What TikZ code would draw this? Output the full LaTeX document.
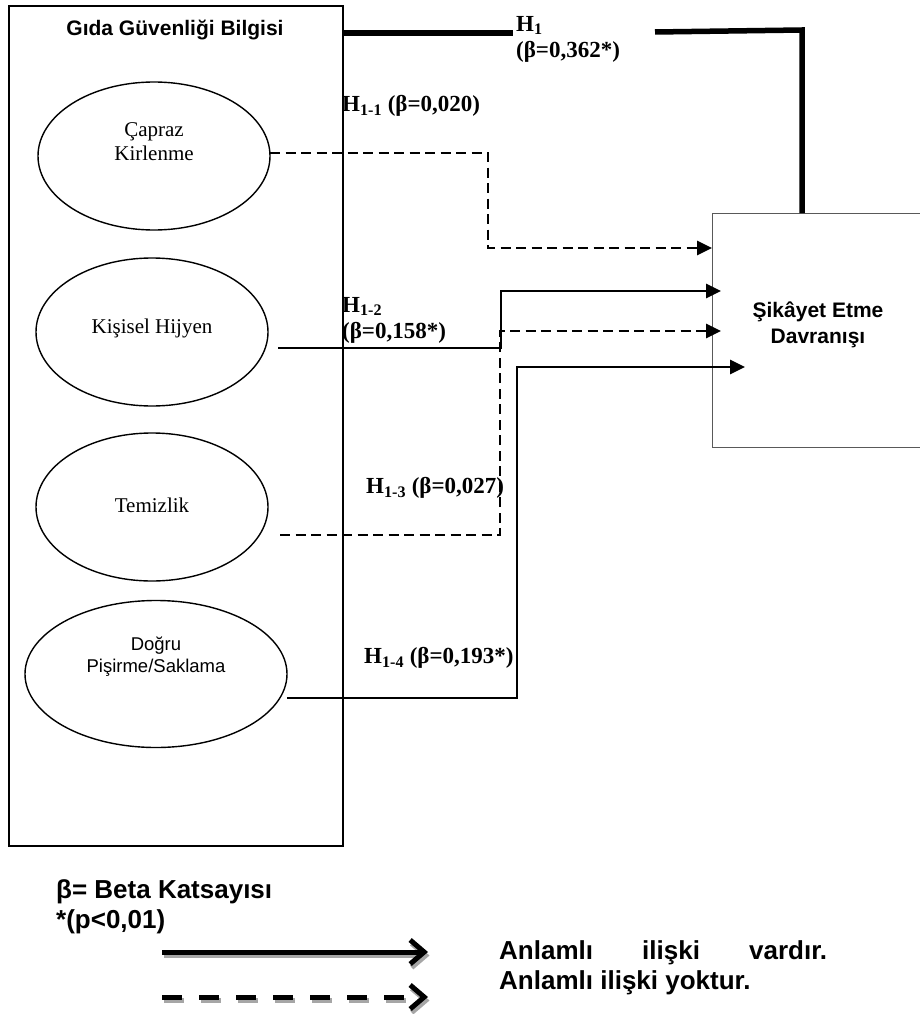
\documentclass[tikz,border=0pt]{standalone}
\usepackage{fontspec}
\setmainfont{Liberation Serif}
\newfontfamily\arial{Liberation Sans}
\usetikzlibrary{arrows.meta,shapes.geometric}
\begin{document}
\begin{tikzpicture}[x=1pt,y=-1pt,
  outerbox/.style={draw, line width=2pt, inner sep=0pt, anchor=north west},
  targetbox/.style={draw=black!65, line width=1pt, inner sep=0pt, anchor=north west},
  elli/.style={draw, ellipse, line width=1.4pt, inner sep=0pt, minimum width=232pt, minimum height=148pt},
  elabel/.style={font=\fontsize{21}{24}\selectfont, align=center, inner sep=0pt},
  slabel/.style={font=\arial\fontsize{18.5}{22}\selectfont, align=center, inner sep=0pt},
  hlabel/.style={font=\fontsize{23}{26}\bfseries\selectfont, align=left, anchor=west, inner sep=0pt},
  titletext/.style={font=\arial\bfseries\fontsize{21}{26}\selectfont, align=center, inner sep=0pt},
  legtext/.style={font=\arial\bfseries\fontsize{26}{29.5}\selectfont, align=left, anchor=west, inner sep=0pt},
  mainline/.style={line width=5.5pt},
  sig/.style={line width=2.8pt, -{Triangle[length=15pt,width=14pt]}},
  nonsig/.style={sig, dash pattern=on 10pt off 5.5pt},
  legline/.style={line width=5pt, -{Straight Barb[length=14pt,width=24pt,line width=5pt]}},
  legdash/.style={legline, dash pattern=on 20pt off 17pt},
  legshadow/.style={draw=black!35, transform canvas={xshift=1.5pt, yshift=-3.5pt}},
]
\useasboundingbox (0,0) rectangle (919,1014);

% left block
\node[outerbox, minimum width=334pt, minimum height=840pt] (gida) at (8,5) {};
\node[titletext] (gidat) at (175,30) {Gıda Güvenliği Bilgisi};

% ellipses
\node[elli] (e1) at (154,156) {};
\node[elabel] (t1) at (154,142) {Çapraz\\Kirlenme};
\node[elli] (e2) at (152,332) {};
\node[elabel] (t2) at (152,328) {Kişisel Hijyen};
\node[elli] (e3) at (152,507) {};
\node[elabel] (t3) at (152,505) {Temizlik};
\node[elli, minimum width=262pt, minimum height=147pt] (e4) at (156,674) {};
\node[slabel] (t4) at (156,657) {Doğru\\Pişirme/Saklama};

% target box
\node[targetbox, minimum width=214pt, minimum height=234pt] (sik) at (712,213) {};
\node[titletext] (sikt) at (818,325) {Şikâyet Etme\\Davranışı};

% coordinates
\coordinate (h1a) at (342,33);
\coordinate (h1b) at (513,33);
\coordinate (h1c) at (655,32);
\coordinate (h1d) at (802,30);
\coordinate (h1e) at (802,213);
\coordinate (s1) at (270,153);
\coordinate (s2) at (278,348);
\coordinate (s3) at (280,535);
\coordinate (s4) at (287,698);
\coordinate (a1) at (712,248);
\coordinate (a2) at (721,291);
\coordinate (a3) at (721,331);
\coordinate (a4) at (745,367);

% H1
\draw[mainline] (h1a) -- (h1b);
\draw[mainline, line join=miter] (h1c) -- (h1d) -- (h1e);

% sub-hypotheses
\draw[nonsig] (s1) -- (488,153) -- (488,248) -- (a1);
\draw[sig] (s2) -- (501,348) -- (501,291) -- (a2);
\draw[nonsig] (s3) -- (500,535) -- (500,331) -- (a3);
\draw[sig] (s4) -- (517,698) -- (517,367) -- (a4);

% labels
\node[hlabel] (l1) at (516,39) {H\textsubscript{1}\\(β=0,362*)};
\node[hlabel] (l11) at (342,106) {H\textsubscript{1-1} (β=0,020)};
\node[hlabel] (l12) at (342,320) {H\textsubscript{1-2}\\(β=0,158*)};
\node[hlabel] (l13) at (366,488) {H\textsubscript{1-3} (β=0,027)};
\node[hlabel] (l14) at (364,658) {H\textsubscript{1-4} (β=0,193*)};

% legend
\node[legtext] (leg1) at (56,907) {β= Beta Katsayısı\\*(p<0,01)};
\coordinate (lsa) at (162,952);
\coordinate (lsb) at (428,952);
\coordinate (lda) at (162,997);
\coordinate (ldb) at (428,997);
\draw[legline, legshadow] (lsa) -- (lsb);
\draw[legline] (lsa) -- (lsb);
\draw[legdash, legshadow] (lda) -- (ldb);
\draw[legdash] (lda) -- (ldb);
\node[legtext] (leg2) at (499,968) {\makebox[328pt][s]{Anlamlı\hfill ilişki\hfill vardır.}\\Anlamlı ilişki yoktur.};
\end{tikzpicture}
\end{document}
